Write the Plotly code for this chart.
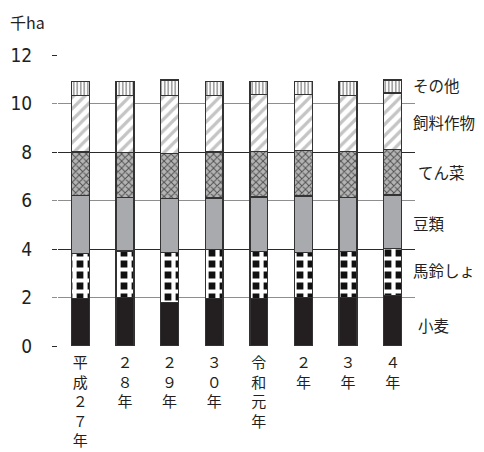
import plotly.graph_objects as go

# 作付面積（千ha）
years = ["平成２７年", "２８年", "２９年", "３０年", "令和元年", "２年", "３年", "４年"]
komugi = [1.96, 1.99, 1.80, 1.96, 1.96, 1.99, 1.99, 2.07]
bareisho = [1.86, 1.93, 2.06, 2.01, 1.93, 1.87, 1.90, 1.96]
mamerui = [2.39, 2.20, 2.21, 2.13, 2.26, 2.32, 2.23, 2.20]
tensai = [1.79, 1.87, 1.87, 1.90, 1.88, 1.88, 1.91, 1.87]
shiryo = [2.34, 2.35, 2.38, 2.32, 2.34, 2.31, 2.31, 2.33]
sonota = [0.58, 0.56, 0.65, 0.58, 0.55, 0.55, 0.56, 0.54]

series_names = ["小麦", "馬鈴しょ", "豆類", "てん菜", "飼料作物", "その他"]
series_values = [komugi, bareisho, mamerui, tensai, shiryo, sonota]

y_ticks = [0, 2, 4, 6, 8, 10, 12]

# label placement beside the last bar (y in data units, x shift in px)
label_y = [0.87, 3.13, 5.07, 7.19, 9.25, 10.76]
label_shift = [1, -4, -4, 1, -4, -4]

styles = [
    dict(color="#231f20"),
    dict(color="#ffffff", pattern=dict(shape="+", bgcolor="#111111", fgcolor="#ffffff",
                                       size=11, solidity=0.62, fillmode="replace")),
    dict(color="#a9aaad"),
    dict(color="#9a9a9a", pattern=dict(shape="x", bgcolor="#b4b4b4", fgcolor="#505050",
                                       size=5, solidity=0.35, fillmode="replace")),
    dict(color="#ffffff", pattern=dict(shape="/", bgcolor="#ffffff", fgcolor="#c4c4c4",
                                       size=8, solidity=0.4, fillmode="replace")),
    dict(color="#ffffff", pattern=dict(shape="|", bgcolor="#ffffff", fgcolor="#9a9a9a",
                                       size=3.5, solidity=0.45, fillmode="replace")),
]

ticktext = ["<br>".join(list(label)) for label in years]

fig = go.Figure()
for name, vals, st in zip(series_names, series_values, styles):
    marker = dict(color=st["color"], line=dict(color="#333333", width=1.3))
    if "pattern" in st:
        marker["pattern"] = st["pattern"]
    fig.add_trace(go.Bar(x=years, y=vals, name=name, marker=marker, width=0.4,
                         showlegend=False, hoverinfo="skip"))

# empty trace so the darker every-4 grid axis is drawn
fig.add_trace(go.Scatter(x=[], y=[], yaxis="y2", showlegend=False, hoverinfo="skip"))

jp_font = "Noto Sans CJK JP, Noto Sans, sans-serif"
num_font = "Liberation Sans Narrow, DejaVu Sans Condensed, Arial Narrow, Roboto, sans-serif"

annotations = [
    dict(text=n, xref="paper", yref="y", x=1, y=yv, xanchor="left", yanchor="middle",
         xshift=sh, showarrow=False, font=dict(family=jp_font, size=15.5, color="#231f20"))
    for n, yv, sh in zip(series_names, label_y, label_shift)
]
annotations.append(dict(text="千ha", xref="paper", yref="paper", x=0, y=1, xanchor="left",
                        yanchor="middle", xshift=-50, yshift=33, showarrow=False,
                        font=dict(family=jp_font, size=16, color="#231f20")))

fig.update_layout(
    width=484, height=452,
    margin=dict(l=58, r=69, t=55, b=106),
    barmode="stack",
    plot_bgcolor="white", paper_bgcolor="white",
    xaxis=dict(type="category", tickvals=years, ticktext=ticktext, showgrid=False,
               zeroline=False, showline=False, ticks="", automargin=False,
               ticklabelstandoff=6,
               tickfont=dict(family=jp_font, size=15, color="#231f20")),
    yaxis=dict(range=[0, 12], tickvals=y_ticks, ticktext=[str(v) for v in y_ticks],
               showgrid=True, gridcolor="#8e8e8e", gridwidth=1, automargin=False,
               zeroline=False, showline=False, ticks="outside", ticklen=5,
               tickcolor="#8e8e8e", ticklabelstandoff=16,
               tickfont=dict(family=num_font, size=19, color="#231f20")),
    yaxis2=dict(range=[0, 12], overlaying="y", dtick=4, showgrid=True,
                gridcolor="#2a2a2a", gridwidth=1, showticklabels=False,
                ticks="outside", ticklen=5, tickcolor="#2a2a2a", automargin=False,
                zeroline=False, showline=False),
    annotations=annotations,
)

fig.write_html("out.html")
